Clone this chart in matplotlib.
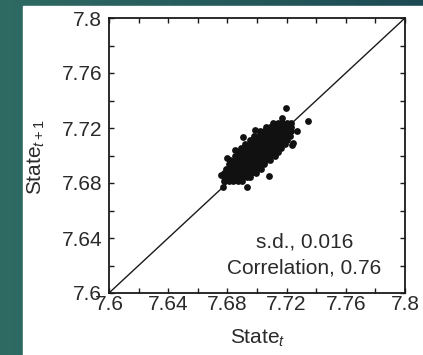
import matplotlib
matplotlib.use("Agg")
import matplotlib.pyplot as plt
import numpy as np
from matplotlib.patches import Rectangle

plt.rcParams['font.family'] = ['Liberation Sans', 'DejaVu Sans']
plt.rcParams['mathtext.fontset'] = 'custom'
plt.rcParams['mathtext.rm'] = 'Liberation Sans'
plt.rcParams['mathtext.it'] = 'Liberation Sans:italic'

# ---- data ----
axis_min, axis_max = 7.6, 7.8
tick_vals = [7.6, 7.64, 7.68, 7.72, 7.76, 7.8]
tick_labels = ["7.6", "7.64", "7.68", "7.72", "7.76", "7.8"]

# dense core of the cloud, scan rows: (y, list of x)
core_rows = [
    (7.6815, [7.678, 7.681, 7.684, 7.687, 7.690]),
    (7.6845, [7.678, 7.681, 7.684, 7.687, 7.690, 7.693, 7.695]),
    (7.6875, [7.678, 7.681, 7.684, 7.687, 7.690, 7.693, 7.696, 7.699]),
    (7.6905, [7.679, 7.682, 7.685, 7.688, 7.691, 7.694, 7.697, 7.700, 7.703]),
    (7.6935, [7.681, 7.684, 7.687, 7.690, 7.693, 7.696, 7.699, 7.702, 7.705]),
    (7.6965, [7.682, 7.685, 7.688, 7.691, 7.694, 7.697, 7.700, 7.703, 7.706, 7.709]),
    (7.6995, [7.685, 7.688, 7.691, 7.694, 7.697, 7.700, 7.703, 7.706, 7.709, 7.712]),
    (7.7025, [7.687, 7.690, 7.693, 7.696, 7.699, 7.702, 7.705, 7.708, 7.711, 7.714]),
    (7.7055, [7.689, 7.692, 7.695, 7.698, 7.701, 7.704, 7.707, 7.710, 7.713, 7.716]),
    (7.7085, [7.692, 7.695, 7.698, 7.701, 7.704, 7.707, 7.710, 7.713, 7.716, 7.719]),
    (7.7115, [7.695, 7.698, 7.701, 7.704, 7.707, 7.710, 7.713, 7.716, 7.720]),
    (7.7145, [7.698, 7.701, 7.704, 7.707, 7.710, 7.713, 7.716, 7.719, 7.722]),
    (7.7175, [7.702, 7.705, 7.708, 7.711, 7.714, 7.717, 7.720, 7.723]),
    (7.7205, [7.706, 7.709, 7.712, 7.715, 7.718, 7.721, 7.723]),
    (7.7235, [7.711, 7.714, 7.717, 7.720, 7.723]),
]
# edge bumps and outliers
extra_x = [7.7196, 7.7347, 7.6908, 7.7273, 7.7083, 7.6935, 7.7236, 7.7245,
           7.6773, 7.6795, 7.6850, 7.6986, 7.7167, 7.6760]
extra_y = [7.7343, 7.7251, 7.7137, 7.7178, 7.6853, 7.6773, 7.7076, 7.7089,
           7.6773, 7.6980, 7.7040, 7.7185, 7.7270, 7.6858]

state_t = [x for y, xs in core_rows for x in xs] + extra_x
state_t1 = [y for y, xs in core_rows for x in xs] + extra_y

sd_text = "s.d., 0.016"
corr_text = "Correlation, 0.76"

# ---- figure ----
W, H = 423, 355
fig = plt.figure(figsize=(W / 100, H / 100), dpi=100)

# teal frame with gradient on top
bg = fig.add_axes([0, 0, 1, 1], zorder=-10)
bg.set_axis_off()
grad = np.linspace(0, 1, 256)[None, :]
c0 = np.array([0x2f, 0x6a, 0x63]) / 255
c1 = np.array([0x1c, 0x4a, 0x53]) / 255
img = c0[None, None, :] * (1 - grad[..., None]) + c1[None, None, :] * grad[..., None]
bg.imshow(img, extent=[0, 1, 0, 1], aspect='auto')
bg.add_patch(Rectangle((23 / W, 0), 1, 1 - 6 / H, color='white', zorder=2))
bg.set_xlim(0, 1)
bg.set_ylim(0, 1)

ax = fig.add_axes([109 / W, 1 - 293 / H, (405 - 109) / W, (293 - 18) / H])
ax.plot([axis_min, axis_max], [axis_min, axis_max], color='#1a1a1a', lw=1.0, zorder=1)
ax.scatter(state_t, state_t1, s=24, color='#111111', linewidths=0, zorder=2)

ax.set_xlim(axis_min, axis_max)
ax.set_ylim(axis_min, axis_max)
ax.set_xticks(tick_vals)
ax.set_xticklabels(tick_labels)
ax.set_yticks(tick_vals)
ax.set_yticklabels(tick_labels)
minor = [7.62, 7.66, 7.70, 7.74, 7.78]
ax.set_xticks(minor, minor=True)
ax.set_yticks(minor, minor=True)
for which in ('major', 'minor'):
    ax.tick_params(axis='both', which=which, direction='in', length=3.5, width=1.0,
                   top=True, right=True, color='#1a1a1a')
ax.tick_params(axis='x', which='major', pad=1.5, labelsize=15, labelcolor='#2a2a2a')
ax.tick_params(axis='y', which='major', pad=5, labelsize=15, labelcolor='#2a2a2a')
for sp in ax.spines.values():
    sp.set_linewidth(1.3)
    sp.set_color('#1a1a1a')

ax.text(0.66, 0.185, sd_text, transform=ax.transAxes, ha='center', va='center',
        fontsize=15, color='#2a2a2a')
ax.text(0.66, 0.09, corr_text, transform=ax.transAxes, ha='center', va='center',
        fontsize=15, color='#2a2a2a')

fig.text(258 / W, 1 - 338 / H, r'State$_{t}$', ha='center', va='center',
         fontsize=15, color='#2a2a2a')
fig.text(36 / W, 1 - 157 / H, r'State$_{t+1}$', ha='center', va='center',
         rotation=90, fontsize=15, color='#2a2a2a')

fig.savefig('out.png', dpi=100)
